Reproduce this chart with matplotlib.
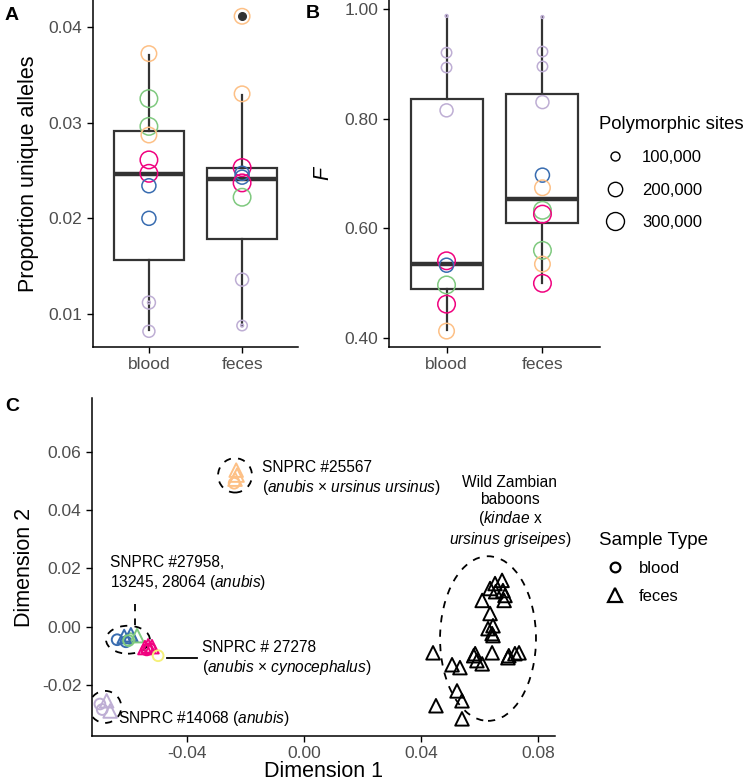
import matplotlib
matplotlib.use('Agg')
import matplotlib.pyplot as plt
from matplotlib.patches import Ellipse
from matplotlib.lines import Line2D
import numpy as np

plt.rcParams['font.family'] = ['Liberation Sans', 'DejaVu Sans']
plt.rcParams['mathtext.fontset'] = 'custom'
plt.rcParams['mathtext.rm'] = 'Liberation Sans'
plt.rcParams['mathtext.it'] = 'Liberation Sans:italic'
plt.rcParams['axes.unicode_minus'] = False

COL = {'orange': '#FDC086', 'green': '#7FC97F', 'lavender': '#BEAED4',
       'blue': '#386CB0', 'magenta': '#F0027F', 'yellow': '#F5F07A', 'black': 'black'}

categories = ['blood', 'feces']

# ---------------- Panel A: proportion unique alleles ----------------
a_blood_vals = [0.0372, 0.0325, 0.0296, 0.0287, 0.0261, 0.0247, 0.0234, 0.0200, 0.0112, 0.0112, 0.0082]
a_blood_cols = ['orange', 'green', 'green', 'orange', 'magenta', 'magenta', 'blue', 'blue', 'lavender', 'lavender', 'lavender']
a_blood_sites = [228000, 285000, 285000, 228000, 285000, 285000, 191000, 191000, 168000, 60000, 148000]

a_feces_vals = [0.0411, 0.0330, 0.0253, 0.0247, 0.0243, 0.0237, 0.0222, 0.0136, 0.0088, 0.0088]
a_feces_cols = ['orange', 'orange', 'magenta', 'blue', 'blue', 'magenta', 'green', 'lavender', 'lavender', 'lavender']
a_feces_sites = [228000, 228000, 285000, 191000, 191000, 285000, 285000, 168000, 120000, 60000]

# box stats
a_box_whislo = [0.00833, 0.00875]
a_box_q1 = [0.01563, 0.01789]
a_box_med = [0.02458, 0.02406]
a_box_q3 = [0.0291, 0.02524]
a_box_whishi = [0.0371, 0.0329]
a_box_fliers = [[], [0.0411]]

# ---------------- Panel B: F ----------------
b_blood_vals = [0.987, 0.920, 0.893, 0.815, 0.541, 0.533, 0.497, 0.462, 0.413]
b_blood_cols = ['lavender', 'lavender', 'lavender', 'lavender', 'magenta', 'blue', 'green', 'magenta', 'orange']
b_blood_sites = [60000, 120000, 120000, 168000, 285000, 191000, 285000, 285000, 228000]

b_feces_vals = [0.985, 0.922, 0.895, 0.830, 0.697, 0.674, 0.633, 0.626, 0.560, 0.535, 0.500]
b_feces_cols = ['lavender', 'lavender', 'lavender', 'lavender', 'blue', 'orange', 'green', 'magenta', 'green', 'orange', 'magenta']
b_feces_sites = [60000, 120000, 120000, 168000, 191000, 228000, 285000, 285000, 285000, 228000, 285000]

b_box_whislo = [0.415, 0.500]
b_box_q1 = [0.4896, 0.609]
b_box_med = [0.535, 0.653]
b_box_q3 = [0.835, 0.845]
b_box_whishi = [0.987, 0.985]
b_box_fliers = [[], []]

legend_sites = [100000, 200000, 300000]
legend_site_labels = ['100,000', '200,000', '300,000']

# ---------------- Panel C: MDS ----------------
c_x = [-0.0232, -0.0229, -0.0236, -0.0239,
       -0.0639, -0.0609, -0.0595, -0.0592, -0.0571, -0.0615, -0.0600,
       -0.0544, -0.0533, -0.0527, -0.0520, -0.0538, -0.0499,
       -0.0698, -0.0675, -0.0663, -0.0690,
       0.0677, 0.0653, 0.0636, 0.0680, 0.0687, 0.0684, 0.0609, 0.0636, 0.0646, 0.0629,
       0.0643, 0.0646, 0.0585, 0.0643, 0.0697, 0.0721, 0.0735, 0.0591, 0.0609, 0.0533,
       0.0540, 0.0441, 0.0506, 0.0523, 0.0451, 0.0540, 0.0580, 0.0655, 0.0700]
c_y = [0.0538, 0.0521, 0.0507, 0.0493,
       -0.0045, -0.0052, -0.0041, -0.0028, -0.0031, -0.0034, -0.0048,
       -0.0072, -0.0066, -0.0076, -0.0069, -0.0080, -0.0100,
       -0.0266, -0.0255, -0.0290, -0.0285,
       0.0159, 0.0148, 0.0131, 0.0124, 0.0107, 0.0090, 0.0090, 0.0045, 0.0003, -0.0007,
       -0.0024, -0.0031, -0.0093, -0.0090, -0.0107, -0.0093, -0.0090, -0.0117, -0.0128, -0.0141,
       -0.0255, -0.0090, -0.0131, -0.0221, -0.0272, -0.0317, -0.0100, 0.0120, -0.0100]
c_type = ['feces', 'feces', 'feces', 'blood',
          'blood', 'blood', 'blood', 'feces', 'feces', 'feces', 'blood',
          'feces', 'feces', 'blood', 'feces', 'blood', 'blood',
          'blood', 'feces', 'feces', 'blood'] + ['feces'] * 29
c_cols = ['orange'] * 4 + ['blue', 'blue', 'green', 'blue', 'green', 'blue', 'green'] + \
         ['magenta'] * 5 + ['yellow'] + ['lavender'] * 4 + ['black'] * 29

# cluster ellipses: center x, center y, half-width, half-height
ell_cx = [-0.0236, -0.0602, -0.0680, 0.0629]
ell_cy = [0.0520, -0.0045, -0.0276, -0.0041]
ell_rx = [0.0058, 0.0075, 0.0055, 0.0164]
ell_ry = [0.0059, 0.0048, 0.0055, 0.0283]


def site_area(v):
    d_px = 2.8 + 16.1 * np.sqrt(max(v - 60000, 0) / 270000)
    return (d_px * 0.72) ** 2


fig = plt.figure(figsize=(7.5, 7.84), dpi=100)
W, H = 750, 784


def px_axes(l, t, r, b):
    return fig.add_axes([l / W, 1 - b / H, (r - l) / W, (b - t) / H])


TICKC = '#4D4D4D'
BOXC = '#333333'
TICKFS = 12.5
TITLEFS = 15.5


def style(ax):
    for s in ['top', 'right']:
        ax.spines[s].set_visible(False)
    for s in ['left', 'bottom']:
        ax.spines[s].set_linewidth(1.1)
    ax.tick_params(axis='both', colors='black', labelcolor=TICKC, labelsize=TICKFS, length=4, width=1)


def box_panel(ax, wl, q1, med, q3, wh, fl, groups):
    stats = []
    for i in range(2):
        stats.append(dict(whislo=wl[i], q1=q1[i], med=med[i], q3=q3[i], whishi=wh[i], fliers=fl[i]))
    ax.bxp(stats, positions=[1, 2], widths=0.75, patch_artist=True, showcaps=False,
           boxprops=dict(facecolor='white', edgecolor=BOXC, linewidth=1.6),
           medianprops=dict(color=BOXC, linewidth=3.2),
           whiskerprops=dict(color=BOXC, linewidth=1.6),
           flierprops=dict(marker='o', markerfacecolor=BOXC, markeredgecolor=BOXC, markersize=5.5),
           zorder=1)
    for gi, (vals, cols, sites) in enumerate(groups):
        for v, c, s in zip(vals, cols, sites):
            ax.scatter([gi + 1], [v], s=site_area(s), facecolors='none', edgecolors=COL[c],
                       linewidths=1.1, zorder=3)
    ax.set_xlim(0.4, 2.6)
    ax.set_xticks([1, 2])
    ax.set_xticklabels(categories)


# Panel A
axA = px_axes(93, 0, 298, 347)
style(axA)
box_panel(axA, a_box_whislo, a_box_q1, a_box_med, a_box_q3, a_box_whishi, a_box_fliers,
          [(a_blood_vals, a_blood_cols, a_blood_sites), (a_feces_vals, a_feces_cols, a_feces_sites)])
axA.set_ylim(0.00656, 0.0428)
axA.set_yticks([0.01, 0.02, 0.03, 0.04])
axA.set_yticklabels(['0.01', '0.02', '0.03', '0.04'])
axA.set_ylabel('Proportion unique alleles', fontsize=TITLEFS, labelpad=7)

# Panel B
axB = px_axes(389, 0, 600, 347)
style(axB)
box_panel(axB, b_box_whislo, b_box_q1, b_box_med, b_box_q3, b_box_whishi, b_box_fliers,
          [(b_blood_vals, b_blood_cols, b_blood_sites), (b_feces_vals, b_feces_cols, b_feces_sites)])
axB.set_ylim(0.384, 1.016)
axB.set_yticks([0.4, 0.6, 0.8, 1.0])
axB.set_yticklabels(['0.40', '0.60', '0.80', '1.00'])
axB.set_ylabel('F', fontsize=TITLEFS, style='italic', labelpad=8)

# size legend
size_handles = [Line2D([], [], marker='o', linestyle='', markerfacecolor='none', markeredgecolor='black',
                       markeredgewidth=1.0, markersize=np.sqrt(site_area(v))) for v in legend_sites]
fig.legend(size_handles, legend_site_labels, title='Polymorphic sites', loc='upper left',
           bbox_to_anchor=(592 / W, 1 - 109 / H), frameon=False, fontsize=12, title_fontsize=13.3,
           labelspacing=1.05, handletextpad=0.6, alignment='left', borderaxespad=0)

# Panel C
axC = px_axes(92, 398, 555, 736)
style(axC)
for x, y, t, c in zip(c_x, c_y, c_type, c_cols):
    mk = 'o' if t == 'blood' else '^'
    sz = 60 if t == 'blood' else 95
    axC.scatter([x], [y], marker=mk, s=sz, facecolors='none', edgecolors=COL[c], linewidths=1.4, zorder=3)
for cx, cy, rx, ry in zip(ell_cx, ell_cy, ell_rx, ell_ry):
    axC.add_patch(Ellipse((cx, cy), 2 * rx, 2 * ry, fill=False, linestyle=(0, (4, 4)),
                          linewidth=1.3, edgecolor='black', zorder=2))
axC.set_xlim(-0.0725, 0.0858)
axC.set_ylim(-0.0376, 0.0786)
axC.set_xticks([-0.04, 0.0, 0.04, 0.08])
axC.set_xticklabels(['-0.04', '0.00', '0.04', '0.08'])
axC.set_yticks([-0.02, 0.0, 0.02, 0.04, 0.06])
axC.set_yticklabels(['-0.02', '0.00', '0.02', '0.04', '0.06'])
axC.set_xlabel('Dimension 1', fontsize=TITLEFS, labelpad=0)
axC.set_ylabel('Dimension 2', fontsize=TITLEFS, labelpad=5)

fs = 11.2
axC.text(-0.0144, 0.0548, 'SNPRC #25567', fontsize=fs, va='center', ha='left')
axC.text(-0.0144, 0.0478, '($\\mathit{anubis}$ × $\\mathit{ursinus\\ ursinus}$)', fontsize=fs, va='center', ha='left')
axC.text(0.0704, 0.0395, 'Wild Zambian\nbaboons\n($\\mathit{kindae}$ x\n$\\mathit{ursinus\\ griseipes}$)',
         fontsize=fs, va='center', ha='center', multialignment='center', linespacing=1.15)
axC.text(-0.0663, 0.0221, 'SNPRC #27958,', fontsize=fs, va='center', ha='left')
axC.text(-0.0663, 0.0152, '13245, 28064 ($\\mathit{anubis}$)', fontsize=fs, va='center', ha='left')
axC.text(-0.0349, -0.0072, 'SNPRC # 27278', fontsize=fs, va='center', ha='left')
axC.text(-0.0349, -0.0141, '($\\mathit{anubis}$ × $\\mathit{cynocephalus}$)', fontsize=fs, va='center', ha='left')
axC.text(-0.0636, -0.0317, 'SNPRC #14068 ($\\mathit{anubis}$)', fontsize=fs, va='center', ha='left')
axC.plot([-0.0578, -0.0578], [0.0079, 0.0007], color='black', lw=1.3, linestyle=(0, (4, 4)))
axC.plot([-0.0470, -0.0366], [-0.0107, -0.0107], color='black', lw=1.3)

# sample type legend
type_handles = [Line2D([], [], marker='o', linestyle='', markerfacecolor='none', markeredgecolor='black',
                       markeredgewidth=1.6, markersize=7),
                Line2D([], [], marker='^', linestyle='', markerfacecolor='none', markeredgecolor='black',
                       markeredgewidth=1.6, markersize=10)]
fig.legend(type_handles, ['blood', 'feces'], title='Sample Type', loc='upper left',
           bbox_to_anchor=(592 / W, 1 - 525 / H), frameon=False, fontsize=12, title_fontsize=13.5,
           labelspacing=0.75, handletextpad=0.4, alignment='left', borderaxespad=0)

fig.text(5 / W, 1 - 15 / H, 'A', fontsize=14, fontweight='bold', va='center')
fig.text(306 / W, 1 - 13 / H, 'B', fontsize=14, fontweight='bold', va='center')
fig.text(5 / W, 1 - 406 / H, 'C', fontsize=14, fontweight='bold', va='center')

fig.savefig('out.png', dpi=100)
